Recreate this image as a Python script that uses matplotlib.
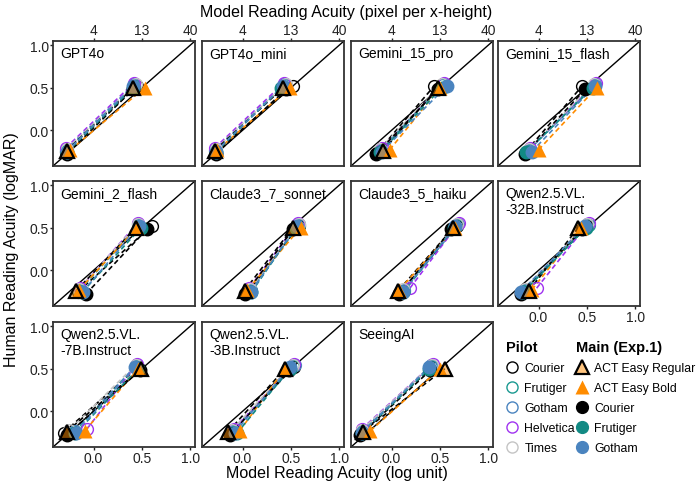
import matplotlib.pyplot as plt
import numpy as np
from matplotlib.lines import Line2D

plt.rcParams['font.family'] = ['Liberation Sans', 'DejaVu Sans']

# panel names (reading order)
models = ['GPT4o', 'GPT4o_mini', 'Gemini_15_pro', 'Gemini_15_flash',
          'Gemini_2_flash', 'Claude3_7_sonnet', 'Claude3_5_haiku',
          'Qwen2.5.VL.\n-32B.Instruct', 'Qwen2.5.VL.\n-7B.Instruct',
          'Qwen2.5.VL.\n-3B.Instruct', 'SeeingAI']

# human acuity (logMAR), [small, large] condition for each series
human_pilot_courier = [-0.25, 0.52]
human_pilot_frutiger = [-0.24, 0.53]
human_pilot_gotham = [-0.23, 0.54]
human_pilot_helvetica = [-0.21, 0.56]
human_pilot_times = [-0.22, 0.55]
human_act_regular = [-0.24, 0.50]
human_act_bold = [-0.23, 0.50]
human_main_courier = [-0.28, 0.48]
human_main_frutiger = [-0.26, 0.50]
human_main_gotham = [-0.25, 0.52]

# model acuity (log unit) per model, low and high point
pilot_courier_lo = [-0.29, -0.28, -0.14, -0.13, -0.16, 0.06, 0.10, -0.17, -0.31, -0.12, -0.32]
pilot_courier_hi = [0.45, 0.52, 0.44, 0.45, 0.60, 0.58, 0.68, 0.50, 0.46, 0.53, 0.42]
pilot_frutiger_lo = [-0.29, -0.29, -0.12, -0.11, -0.15, 0.09, 0.13, -0.15, -0.20, -0.10, -0.31]
pilot_frutiger_hi = [0.42, 0.44, 0.52, 0.57, 0.47, 0.58, 0.68, 0.52, 0.44, 0.52, 0.41]
pilot_gotham_lo = [-0.29, -0.29, -0.12, -0.10, -0.15, 0.09, 0.13, -0.15, -0.19, -0.10, -0.31]
pilot_gotham_hi = [0.42, 0.43, 0.53, 0.58, 0.46, 0.58, 0.69, 0.50, 0.44, 0.54, 0.41]
pilot_helvetica_lo = [-0.29, -0.29, -0.10, -0.09, -0.14, 0.07, 0.19, -0.02, -0.07, -0.09, -0.31]
pilot_helvetica_hi = [0.42, 0.43, 0.54, 0.59, 0.46, 0.57, 0.70, 0.52, 0.45, 0.53, 0.43]
pilot_times_lo = [-0.28, -0.28, -0.12, -0.10, -0.15, 0.08, 0.12, -0.14, -0.25, -0.11, -0.31]
pilot_times_hi = [0.44, 0.45, 0.52, 0.57, 0.46, 0.58, 0.68, 0.50, 0.44, 0.52, 0.42]

act_regular_lo = [-0.28, -0.29, -0.09, np.nan, -0.18, 0.02, 0.07, -0.10, -0.28, -0.15, -0.30]
act_regular_hi = [0.41, 0.42, 0.48, np.nan, 0.44, 0.52, 0.64, 0.41, 0.49, 0.44, 0.55]
act_bold_lo = [-0.24, -0.26, -0.02, 0.00, -0.15, 0.05, 0.08, -0.07, -0.09, -0.03, -0.22]
act_bold_hi = [0.53, 0.49, 0.50, 0.60, 0.45, 0.60, 0.66, 0.44, 0.46, 0.44, 0.50]
main_courier_lo = [-0.28, -0.28, -0.16, -0.14, -0.08, 0.03, 0.08, -0.18, -0.28, -0.13, -0.33]
main_courier_hi = [0.41, 0.45, 0.48, 0.48, 0.55, 0.52, 0.62, 0.45, 0.48, 0.48, 0.40]
main_frutiger_lo = [-0.28, -0.28, -0.12, -0.13, -0.12, 0.09, 0.12, -0.16, -0.19, -0.06, -0.31]
main_frutiger_hi = [0.41, 0.40, 0.52, 0.56, 0.49, 0.55, 0.65, 0.49, 0.46, 0.49, 0.39]
main_gotham_lo = [-0.28, -0.28, -0.10, -0.07, -0.11, 0.09, 0.12, -0.18, -0.18, -0.08, -0.31]
main_gotham_hi = [0.41, 0.42, 0.57, 0.58, 0.47, 0.56, 0.66, 0.48, 0.43, 0.49, 0.39]

# colours
c_black = '#000000'
c_teal = '#1a9990'
c_blue = '#4a84bf'
c_purple = '#a033f0'
c_grey = '#c4c4c4'
c_orange = '#ff8c00'
c_reg_fill = (1, 0.55, 0, 0.5)

pilot = [
    ('Courier', pilot_courier_lo, pilot_courier_hi, human_pilot_courier, c_black),
    ('Frutiger', pilot_frutiger_lo, pilot_frutiger_hi, human_pilot_frutiger, c_teal),
    ('Gotham', pilot_gotham_lo, pilot_gotham_hi, human_pilot_gotham, c_blue),
    ('Helvetica', pilot_helvetica_lo, pilot_helvetica_hi, human_pilot_helvetica, c_purple),
    ('Times', pilot_times_lo, pilot_times_hi, human_pilot_times, c_grey),
]
main = [
    ('Courier', main_courier_lo, main_courier_hi, human_main_courier, c_black),
    ('Frutiger', main_frutiger_lo, main_frutiger_hi, human_main_frutiger, '#128a84'),
    ('Gotham', main_gotham_lo, main_gotham_hi, human_main_gotham, c_blue),
]

fig = plt.figure(figsize=(7, 4.85), dpi=100)
W, H = 700, 485
col_left = [53, 202, 351, 498]
row_top = [42, 182, 323]
pw, ph = 142, 125
lim = (-0.42, 1.05)
dash = (0, (3, 2))
ms_open, ms_fill, ms_tri = 8.5, 9, 10.5

for i, name in enumerate(models):
    r, c = divmod(i, 4)
    ax = fig.add_axes([col_left[c] / W, 1 - (row_top[r] + ph) / H, pw / W, ph / H])
    ax.set_xlim(lim)
    ax.set_ylim(lim)
    ax.axline((0, 0), slope=1, color='black', lw=1, zorder=1)

    # dashed connectors
    for _, lo, hi, hy, col in pilot:
        ax.plot([lo[i], hi[i]], hy, ls=dash, color=col, lw=1.2, zorder=2)
    ax.plot([act_regular_lo[i], act_regular_hi[i]], human_act_regular, ls=dash, color='black', lw=1.2, zorder=2)
    ax.plot([act_bold_lo[i], act_bold_hi[i]], human_act_bold, ls=dash, color=c_orange, lw=1.2, zorder=2)
    for _, lo, hi, hy, col in main:
        ax.plot([lo[i], hi[i]], hy, ls=dash, color=col, lw=1.2, zorder=2)

    # markers
    for _, lo, hi, hy, col in pilot:
        ax.plot([lo[i], hi[i]], hy, 'o', ms=ms_open, mfc='none', mec=col, mew=1.0, zorder=3)
    for _, lo, hi, hy, col in main:
        ax.plot([lo[i], hi[i]], hy, 'o', ms=ms_fill, color=col, zorder=4)
    ax.plot([act_bold_lo[i], act_bold_hi[i]], human_act_bold, '^', ms=ms_tri, color=c_orange, mec='none', zorder=5)
    ax.plot([act_regular_lo[i], act_regular_hi[i]], human_act_regular, '^', ms=ms_tri,
            mfc=c_reg_fill, mec='black', mew=1.6, zorder=6)

    ax.text(0.05, 0.96, name, transform=ax.transAxes, ha='left', va='top',
            fontsize=10, linespacing=1.15)

    for s in ax.spines.values():
        s.set_linewidth(1.3)
        s.set_color('#333333')
    ax.set_xticks([0, 0.5, 1.0])
    ax.set_yticks([0, 0.5, 1.0])
    ax.set_xticklabels(['0.0', '0.5', '1.0'])
    ax.set_yticklabels(['0.0', '0.5', '1.0'])
    ax.tick_params(labelsize=10, length=2.5, width=1, pad=0.5, colors='#222222')
    bottom = (r == 2) or (i == 7)
    ax.tick_params(axis='x', bottom=bottom, labelbottom=bottom)
    ax.tick_params(axis='y', left=(c == 0), labelleft=(c == 0))
    if r == 0:
        top = ax.secondary_xaxis('top')
        top.set_xticks([0, 0.5, 1.0])
        top.set_xticklabels(['4', '13', '40'])
        top.tick_params(labelsize=10, length=2.5, width=1, pad=0.5, colors='#222222')
        top.spines['top'].set_visible(False)

fig.text(346 / W, 1 - 12 / H, 'Model Reading Acuity (pixel per x-height)', ha='center', va='center', fontsize=11.5)
fig.text(337 / W, 1 - 474 / H, 'Model Reading Acuity (log unit)', ha='center', va='center', fontsize=11.5)
fig.text(12 / W, 1 - 250 / H, 'Human Reading Acuity (logMAR)', ha='center', va='center',
         rotation=90, fontsize=11.5)

# legends
legend_kw = dict(loc='upper left', frameon=False, fontsize=8.8, handlelength=1.0,
                 handletextpad=0.5, labelspacing=0.66, borderpad=0, alignment='left',
                 title_fontproperties={'weight': 'bold', 'size': 10.5})
h_pilot = [Line2D([], [], ls='none', marker='o', ms=8, mfc='none', mec=col, mew=1.0)
           for _, _, _, _, col in pilot]
fig.legend(h_pilot, [p[0] for p in pilot], title='Pilot',
           bbox_to_anchor=(500 / W, 1 - 335 / H), **legend_kw)
h_main = [Line2D([], [], ls='none', marker='^', ms=9.5, mfc=c_reg_fill, mec='black', mew=1.6),
          Line2D([], [], ls='none', marker='^', ms=9.5, color=c_orange, mec='none')]
h_main += [Line2D([], [], ls='none', marker='o', ms=8.5, color=col) for _, _, _, _, col in main]
fig.legend(h_main, ['ACT Easy Regular', 'ACT Easy Bold', 'Courier', 'Frutiger', 'Gotham'],
           title='Main (Exp.1)', bbox_to_anchor=(570 / W, 1 - 335 / H), **legend_kw)

fig.savefig('out.png', dpi=100)
